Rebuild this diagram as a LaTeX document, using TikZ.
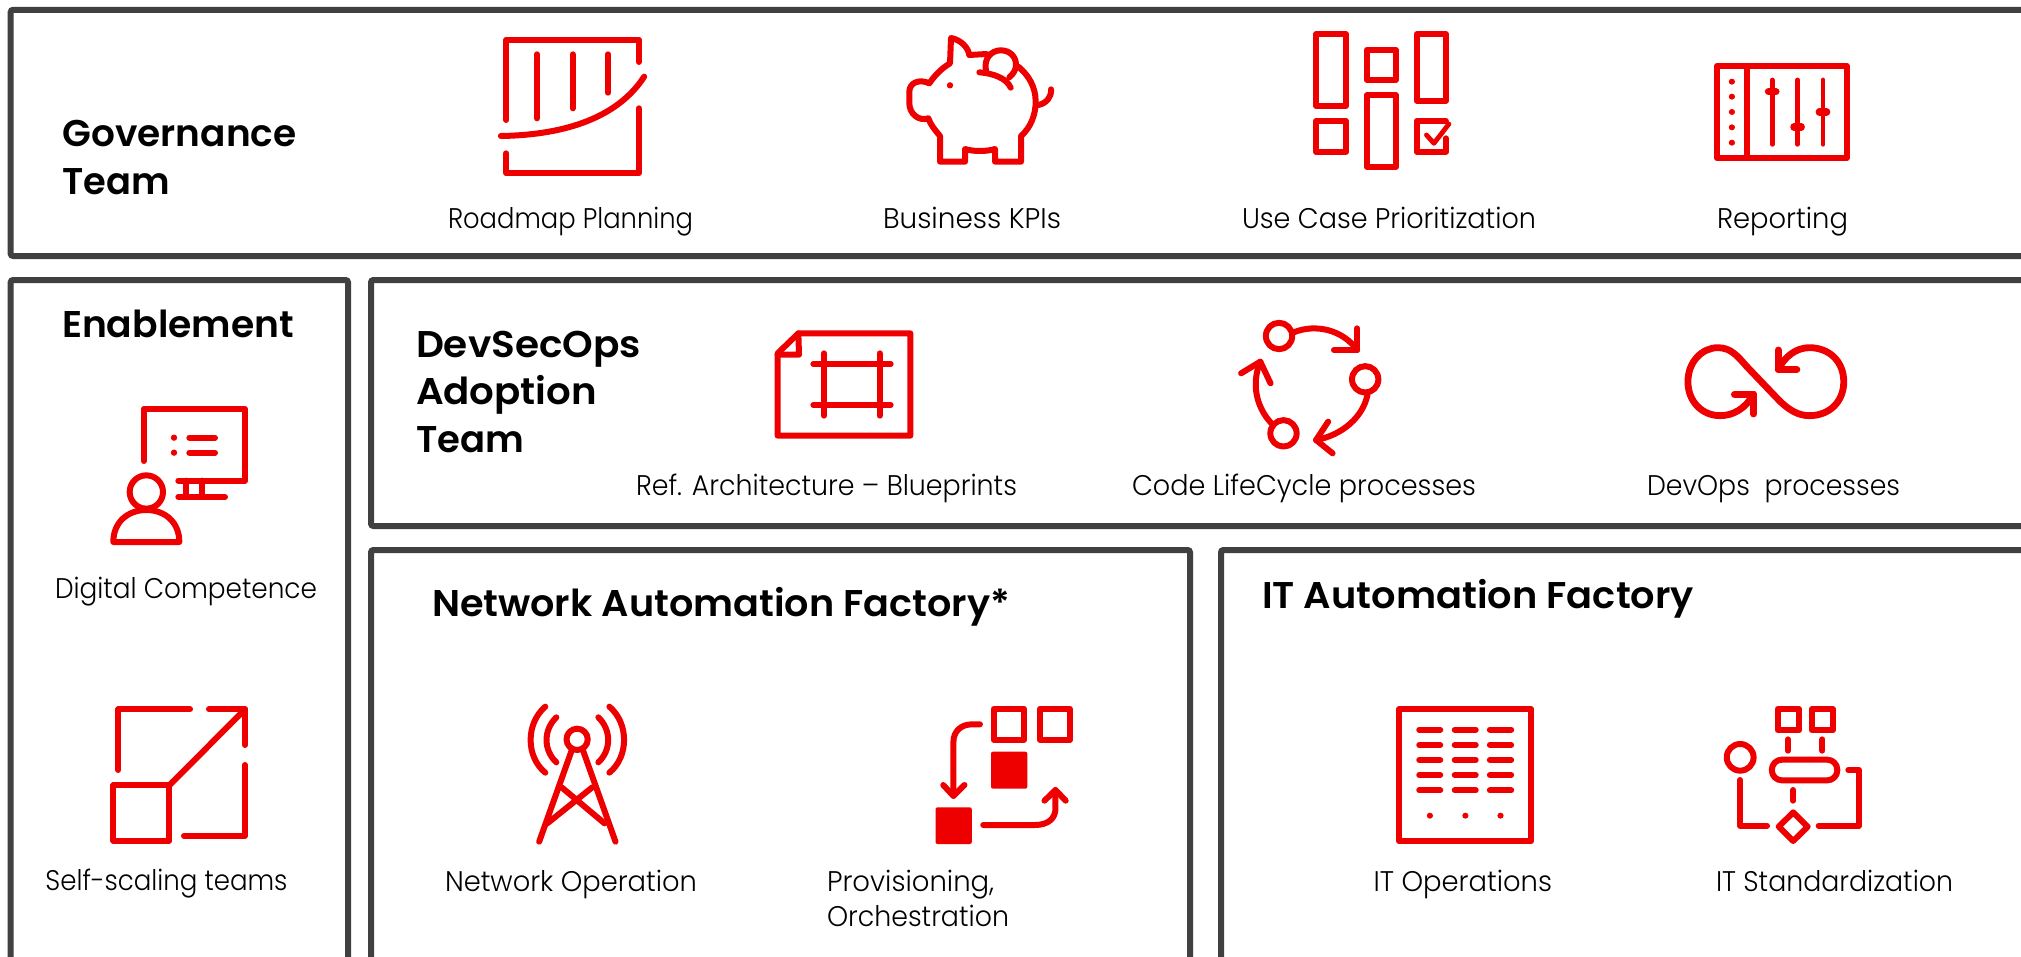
\documentclass[tikz,border=0pt]{standalone}
\usepackage{fontspec}
\setmainfont{Poppins}
\newfontfamily\lightf{Poppins Light}
\newfontfamily\boldf{Poppins SemiBold}
\definecolor{rhred}{HTML}{EE0000}
\definecolor{framegray}{HTML}{404040}
\newcommand\fitw[2]{\sbox0{#2}\pgfmathsetmacro\fitr{#1/\wd0}\scalebox{\fitr}[1]{\usebox0}}
% name, x1, x2, baseline, text
\newcommand\lab[5]{\node[labelnode] (#1) at (#2,#4) {\fontsize{14.2pt}{17pt}\lightf\fitw{(#3-#2)*0.5pt}{#5}};}
\newcommand\ttl[5]{\node[labelnode] (#1) at (#2,#4) {\fontsize{18.6pt}{22pt}\boldf\fitw{(#3-#2)*0.5pt}{#5}};}
\tikzset{
  labelnode/.style={anchor=base west,inner sep=0pt,outer sep=0pt,text=black},
  frame/.style={draw=framegray,line width=3pt,rounded corners=1.2pt},
  ic/.style={draw=rhred,line width=3pt,line cap=round,line join=round},
  icfill/.style={fill=rhred,draw=none,rounded corners=1pt},
  dotf/.style={fill=rhred,draw=none}
}
\begin{document}
\begin{tikzpicture}[x=0.5pt,y=-0.5pt]
\useasboundingbox (0,0) rectangle (2021,957);
\fill[white] (0,0) rectangle (2021,957);
% frames
\draw[frame] (10.7,9.8) rectangle (2060,256);
\draw[frame] (10.7,280) rectangle (348,1000);
\draw[frame] (371,280) rectangle (2060,526);
\draw[frame] (371,550) rectangle (1190,1000);
\draw[frame] (1221,550) rectangle (2060,1000);
% titles
\ttl{gov1}{62.5}{296.5}{147}{Governance}
\ttl{gov2}{62.5}{170}{195}{Team}
\ttl{ena}{62}{294}{337}{Enablement}
\ttl{dev1}{416}{641}{357}{DevSecOps}
\ttl{dev2}{416}{597}{404}{Adoption}
\ttl{dev3}{416}{524}{452}{Team}
\ttl{net}{432}{1010}{616}{Network Automation Factory*}
\ttl{itf}{1262}{1694}{608.5}{IT Automation Factory}
% labels
\lab{l1}{448}{693}{228}{Roadmap Planning}
\lab{l2}{883}{1061}{228}{Business KPIs}
\lab{l3}{1242}{1536}{228}{Use Case Prioritization}
\lab{l4}{1717}{1848}{228}{Reporting}
\lab{l5}{636}{1017}{495}{Ref. Architecture – Blueprints}
\lab{l6}{1132}{1476}{495}{Code LifeCycle processes}
\lab{l7}{1647}{1900}{495}{DevOps~~processes}
\lab{l8}{55}{317}{598}{Digital Competence}
\lab{l9}{45.5}{287.5}{890.5}{Self-scaling teams}
\lab{l10}{445}{697}{891}{Network Operation}
\lab{l11}{827}{994}{891}{Provisioning,}
\lab{l12}{827}{1009}{926}{Orchestration}
\lab{l13}{1373.5}{1552}{891}{IT Operations}
\lab{l14}{1716}{1953}{891}{IT Standardization}
% roadmap
\begin{scope}[shift={(0,0)},xscale=1/2.24,yscale=1/3]
\draw[ic] (1134,360) -- (1134,119) -- (1431,119) -- (1431,186);
\draw[ic] (1134,460) -- (1134,520) -- (1431,520) -- (1431,325);
\draw[ic] (1203,163) -- (1203,355);
\draw[ic] (1283,163) -- (1283,325);
\draw[ic] (1362,163) -- (1362,278);
\draw[ic] (1122,408) .. controls (1270,405) and (1385,350) .. (1443,230);
\end{scope}
% piggy
\begin{scope}[shift={(890,50)},xscale=1/3,yscale=1/3]
\draw[ic] (238,15) -- (290,12);
\draw[ic] (385,50) .. controls (415,75) and (437,110) .. (437,155) .. controls (437,190) and (425,230) .. (393,258) -- (393,335) -- (315,335) -- (315,297)
 .. controls (290,305) and (250,305) .. (225,297) -- (225,335) -- (150,335) -- (150,258)
 .. controls (135,240) and (122,225) .. (115,205) .. controls (85,215) and (58,190) .. (58,160) -- (58,125)
 .. controls (58,100) and (85,85) .. (118,100) .. controls (135,75) and (155,55) .. (180,40) -- (183,-36)
 .. controls (215,-30) and (235,-5) .. (238,15);
\draw[ic] (288,62) .. controls (280,25) and (305,1) .. (332,1) .. controls (360,1) and (378,20) .. (378,45) .. controls (378,58) and (370,72) .. (358,82);
\draw[ic] (268,67) .. controls (310,70) and (350,85) .. (362,113);
\draw[ic] (445,165) .. controls (470,160) and (485,140) .. (483,118);
\fill[dotf] (180,106) circle [radius=9.5];
\end{scope}
% use-case prioritization
\begin{scope}[shift={(850,0)},xscale=1/1.339,yscale=1/3]
\draw[ic] (624,103) rectangle (664,317);
\draw[ic] (692,150) rectangle (731,240);
\draw[ic] (759,103) rectangle (798,302);
\draw[ic] (624,363) rectangle (664,455);
\draw[ic] (692,286) rectangle (731,500);
\draw[ic] (798,363) -- (759,363) -- (759,455) -- (798,455) -- (798,415);
\draw[ic,line width=2.4pt] (772,405) -- (782,430) -- (802,372);
\end{scope}
% reporting
\begin{scope}[shift={(850,0)},xscale=1/1.339,yscale=1/3]
\draw[ic] (1161,198) rectangle (1335,474);
\draw[ic] (1201,198) -- (1201,474);
\foreach \yy in {245,290,336,382,428} \fill[dotf] (1181,\yy) ellipse [x radius=4.2,y radius=9];
\draw[ic,line width=2.4pt] (1235,240) -- (1235,433);
\draw[ic,line width=2.4pt] (1269,240) -- (1269,433);
\draw[ic,line width=2.4pt] (1303,240) -- (1303,433);
\draw[ic,line width=3.6pt] (1230,275) -- (1240,275);
\draw[ic,line width=3.6pt] (1264,381) -- (1274,381);
\draw[ic,line width=3.6pt] (1298,336) -- (1308,336);
\end{scope}
% blueprint
\begin{scope}[shift={(730,300)},xscale=1/3,yscale=1/3]
\draw[ic] (143,160) -- (205,100) -- (541,100) -- (541,407) -- (143,407) -- cycle;
\draw[ic] (205,100) -- (207,164) -- (143,164);
\draw[ic] (282,160) -- (282,347);
\draw[ic] (449,160) -- (449,347);
\draw[ic] (250,192) -- (482,192);
\draw[ic] (250,315) -- (482,315);
\end{scope}
% life cycle
\begin{scope}[shift={(1200,300)},xscale=1/2.24,yscale=1/3]
\draw[ic] (177,108) ellipse [x radius=29.5,y radius=39.6];
\draw[ic] (370,238) ellipse [x radius=29.5,y radius=39.6];
\draw[ic] (187,400) ellipse [x radius=29.5,y radius=39.6];
\draw[ic] (210,97) .. controls (260,70) and (320,90) .. (352,150);
\draw[ic] (352,85) -- (352,150) -- (300,150);
\draw[ic] (375,285) .. controls (365,350) and (320,405) .. (260,420);
\draw[ic] (287,365) -- (260,420) -- (297,460);
\draw[ic] (160,370) .. controls (125,320) and (115,250) .. (135,185);
\draw[ic] (92,220) -- (135,185) -- (158,250);
% infinity
\draw[ic,line width=3.4pt] (1240,283) .. controls (1222,325) and (1195,347) .. (1165,347)
 .. controls (1125,347) and (1093,305) .. (1093,245) .. controls (1093,185) and (1125,143) .. (1160,143)
 .. controls (1190,143) and (1205,170) .. (1225,200) -- (1300,305)
 .. controls (1320,330) and (1340,347) .. (1365,347) .. controls (1410,347) and (1442,305) .. (1442,245)
 .. controls (1442,185) and (1410,143) .. (1365,143) .. controls (1335,143) and (1310,170) .. (1295,208);
\draw[ic,line width=3.4pt] (1197,283) -- (1240,283) -- (1240,342);
\draw[ic,line width=3.4pt] (1295,150) -- (1295,208) -- (1337,208);
\end{scope}
% digital competence + self-scaling
\begin{scope}[shift={(60,380)},xscale=1/3,yscale=1/3]
\draw[ic] (251,243) -- (251,87) -- (555,87) -- (555,302) -- (355,302);
\draw[ic] (377,302) -- (377,350);
\draw[ic] (427,302) -- (427,350);
\draw[ic] (355,351) -- (495,351);
\fill[dotf] (342,173) circle [radius=9.5];
\fill[dotf] (342,218) circle [radius=9.5];
\draw[ic] (388,173) -- (465,173);
\draw[ic] (388,218) -- (465,218);
\draw[ic] (259,336) circle [radius=50];
\draw[ic] (160,486) .. controls (160,425) and (205,390) .. (259,390) .. controls (313,390) and (358,425) .. (358,486) -- cycle;
\draw[ic] (160,1216) rectangle (328,1382);
\draw[ic] (175,1170) -- (175,988) -- (390,988);
\draw[ic] (447,988) -- (555,988) -- (555,1095);
\draw[ic] (555,1155) -- (555,1367) -- (372,1367);
\draw[ic] (328,1216) -- (555,988);
\end{scope}
% tower + provisioning
\begin{scope}[shift={(480,680)},xscale=1/2.45,yscale=1/3]
\draw[ic] (238,178) ellipse [x radius=26,y radius=32];
\draw[ic] (145,485) -- (225,210);
\draw[ic] (332,485) -- (252,210);
\draw[ic] (200,322) -- (305,430);
\draw[ic] (275,322) -- (165,430);
\draw[ic] (187,112) .. controls (155,150) and (155,210) .. (187,247);
\draw[ic] (160,80) .. controls (112,130) and (112,230) .. (160,278);
\draw[ic] (290,112) .. controls (322,150) and (322,210) .. (290,247);
\draw[ic] (317,80) .. controls (365,130) and (365,230) .. (317,278);
\draw[ic] (1259,86) rectangle (1333,180);
\draw[ic] (1372,86) rectangle (1445,180);
\fill[icfill] (1252,215) rectangle (1341,326);
\fill[icfill] (1116,382) rectangle (1205,492);
\draw[ic] (1225,133) -- (1205,133) .. controls (1178,133) and (1160,155) .. (1160,185) -- (1160,347);
\draw[ic] (1135,315) -- (1160,348) -- (1187,315);
\draw[ic] (1233,435) -- (1360,435) .. controls (1392,435) and (1410,415) .. (1410,385) -- (1410,330);
\draw[ic] (1383,362) -- (1410,330) -- (1435,362);
\end{scope}
% IT ops + standardization
\begin{scope}[shift={(1360,680)},xscale=1/2.904,yscale=1/3]
\draw[ic] (114,87) rectangle (497,484);
\foreach \yy in {149,195,240,285,331} {
  \draw[ic] (172,\yy) -- (233,\yy);
  \draw[ic] (275,\yy) -- (336,\yy);
  \draw[ic] (377,\yy) -- (439,\yy);
}
\foreach \xx in {203,306,408} \fill[dotf] (\xx,407) ellipse [x radius=9,y radius=9];
\draw[ic] (1213,87) rectangle (1275,151);
\draw[ic] (1312,87) rectangle (1373,151);
\draw[ic] (1243,178) -- (1243,212);
\draw[ic] (1343,178) -- (1343,212);
\draw[ic] (1104,232) ellipse [x radius=39,y radius=40];
\draw[ic,rounded corners=5pt] (1196,239) rectangle (1386,301);
\draw[ic] (1258,330) -- (1258,362);
\draw[ic] (1104,300) -- (1104,437) -- (1182,437);
\draw[ic] (1418,270) -- (1449,270) -- (1449,437) -- (1332,437);
\draw[ic] (1258,397) -- (1300,440) -- (1258,483) -- (1216,440) -- cycle;
\end{scope}
\end{tikzpicture}
\end{document}
